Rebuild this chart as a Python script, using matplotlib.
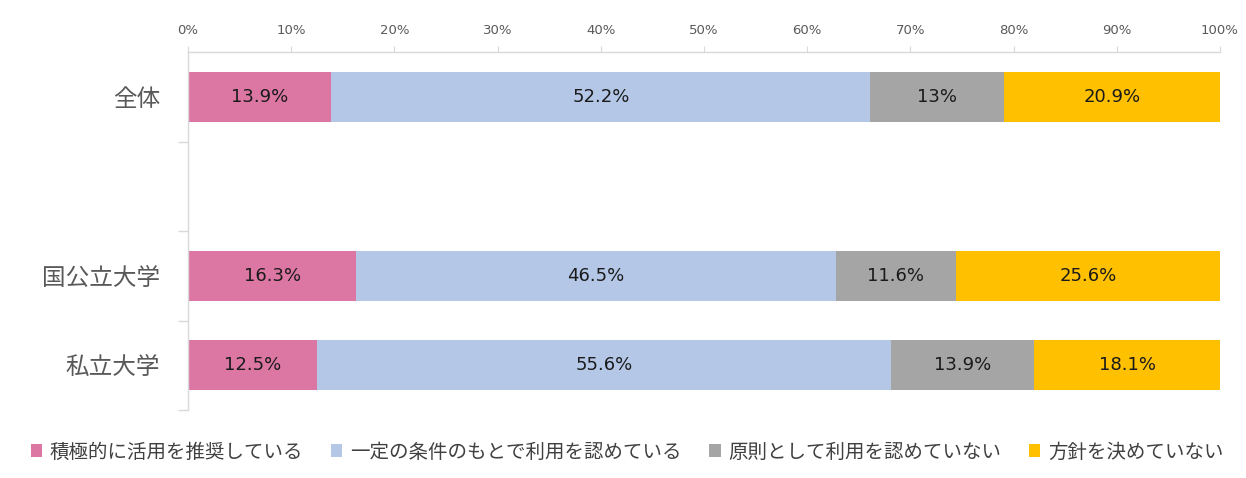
import matplotlib
matplotlib.use("Agg")
import matplotlib.pyplot as plt
from matplotlib.patches import Patch
import numpy as np

plt.rcParams['font.family'] = ['Noto Sans CJK JP', 'DejaVu Sans']

categories = ["全体", "", "国公立大学", "私立大学"]
series_names = ["積極的に活用を推奨している", "一定の条件のもとで利用を認めている",
                "原則として利用を認めていない", "方針を決めていない"]
colors = ["#DC77A4", "#B4C7E7", "#A5A5A5", "#FFC000"]
v_active = [13.9, None, 16.3, 12.5]
v_cond = [52.2, None, 46.5, 55.6]
v_no = [13.0, None, 11.6, 13.9]
v_undecided = [20.9, None, 25.6, 18.1]
x_ticks = [0, 10, 20, 30, 40, 50, 60, 70, 80, 90, 100]

series = [v_active, v_cond, v_no, v_undecided]

fig = plt.figure(figsize=(12.46, 4.78), dpi=100)
ax = fig.add_axes([188/1246, 1-410/478, (1220-188)/1246, (410-52)/478])

y = np.arange(len(categories))
left = np.zeros(len(categories))
for vals, col in zip(series, colors):
    for i, v in enumerate(vals):
        if v is None:
            continue
        ax.barh(y[i], v, left=left[i], height=0.56, color=col, edgecolor='none')
        ax.text(left[i] + v/2, y[i], f"{v:g}%", ha='center', va='center',
                fontsize=13, color='#1a1a1a', family='DejaVu Sans')
        left[i] += v

ax.set_xlim(0, 100)
ax.set_ylim(3.5, -0.5)
ax.xaxis.tick_top()
ax.set_xticks(x_ticks)
ax.set_xticklabels([f"{t}%" for t in x_ticks], family='DejaVu Sans')
ax.tick_params(axis='x', length=4, color='#D9D9D9', labelsize=9.5, labelcolor='#595959', pad=7)
ax.set_yticks(y)
ax.set_yticklabels(categories)
ax.tick_params(axis='y', which='major', length=0, labelsize=17, labelcolor='#595959', pad=20)
ax.set_yticks([0.5, 1.5, 2.5, 3.5], minor=True)
ax.tick_params(axis='y', which='minor', length=7, color='#D9D9D9', width=1)

for s in ['right', 'bottom']:
    ax.spines[s].set_visible(False)
for s in ['left', 'top']:
    ax.spines[s].set_color('#D9D9D9')
    ax.spines[s].set_linewidth(1)

handles = [Patch(facecolor=c, edgecolor='none') for c in colors]
fig.legend(handles, series_names, loc='center', bbox_to_anchor=(627/1246, 1-452/478),
           ncol=4, frameon=False, fontsize=14, labelcolor='#404040',
           handlelength=0.6, handleheight=0.6, handletextpad=0.4, columnspacing=1.4)

fig.savefig("out.png", dpi=100)
